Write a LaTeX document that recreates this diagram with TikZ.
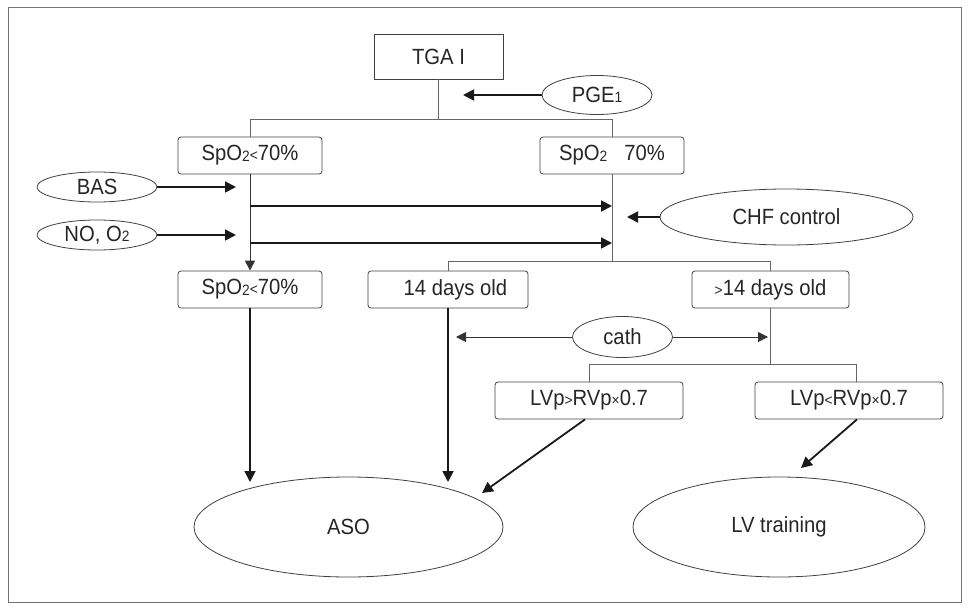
\documentclass[tikz,border=0pt]{standalone}
\usepackage{fontspec}
\setmainfont{Liberation Sans}[FakeStretch=0.92]
\usetikzlibrary{shapes.geometric,arrows.meta}
\newcommand\sbsc[1]{\raisebox{-0.5pt}{\fontsize{15}{15}\selectfont #1}}
\newcommand\smop[1]{{\fontsize{15}{15}\selectfont #1}}
\begin{document}
\begin{tikzpicture}[x=1pt,y=-1pt,
  every node/.style={font=\fontsize{22}{26}\selectfont, text=black!85, inner sep=0pt},
  rbox/.style={draw=black!75, line width=0.8pt, rounded corners=3pt, minimum height=37pt},
  sbox/.style={draw=black!75, line width=0.8pt, minimum height=45pt, minimum width=129pt},
  oval/.style={draw=black!75, line width=0.8pt, ellipse},
  conn/.style={draw=black!60, line width=1pt},
  arr/.style={draw=black!90, line width=1.8pt, -{Triangle[length=11pt,width=11pt]}},
  tarr/.style={draw=black!80, line width=1pt, -{Triangle[length=10pt,width=10pt]}},
]
\useasboundingbox (0,0) rectangle (969,610);
\draw[black!55, line width=1pt] (8,8) rectangle (961,602);

% nodes
\node[sbox] (tga) at (438.5,56.5) {TGA I};
\node[oval, minimum width=110pt, minimum height=39pt] (pge) at (597,95) {PGE\sbsc{1}};
\node[rbox, minimum width=144pt] (s1) at (250,155.5) {SpO\sbsc{2}\smop{<}70\%};
\node[rbox, minimum width=144pt] (s2) at (612,155.5) {SpO\sbsc{2}\hspace{17pt}70\%};
\node[oval, minimum width=120pt, minimum height=30pt] (bas) at (97,187) {BAS};
\node[oval, minimum width=120pt, minimum height=30pt] (no) at (97,235) {NO, O\sbsc{2}};
\node[oval, minimum width=253pt, minimum height=56pt] (chf) at (786.5,217) {CHF control};
\node[rbox, minimum width=144pt] (s3) at (250,289.5) {SpO\sbsc{2}\smop{<}70\%};
\node[rbox, minimum width=160pt] (d14) at (448,289.5) {\hspace{15pt}14 days old};
\node[rbox, minimum width=157pt] (d14p) at (770.5,289.5) {\smop{>}14 days old};
\node[oval, minimum width=100pt, minimum height=41pt] (cath) at (622.5,337) {cath};
\node[rbox, minimum width=188pt] (lvg) at (589,400.5) {LVp\smop{>}RVp\smop{×}0.7};
\node[rbox, minimum width=188pt] (lvl) at (849,400.5) {LVp\smop{<}RVp\smop{×}0.7};
\node[oval, minimum width=309pt, minimum height=100pt] (aso) at (348.5,527) {ASO};
\node[oval, minimum width=292pt, minimum height=100pt] (lvt) at (779,527) {LV training};

% coordinates
\coordinate (j1) at (438.5,119);
\coordinate (pgeT) at (463,95);
\coordinate (basT) at (236,187);
\coordinate (noT) at (236,235);
\coordinate (h1s) at (250,206);
\coordinate (h1e) at (612,206);
\coordinate (h2s) at (250,243);
\coordinate (h2e) at (612,243);
\coordinate (chfT) at (627,217);
\coordinate (j2) at (612,262);
\coordinate (a1) at (250,482);
\coordinate (a2) at (448,482);
\coordinate (cL) at (456,337);
\coordinate (cR) at (768,337);
\coordinate (j3) at (770.5,365);
\coordinate (lvlTop) at (856,382);
\coordinate (a3) at (482,493);
\coordinate (a4) at (801,468);

% connectors
\draw[conn] (tga.south) -- (j1);
\draw[conn] (s1.north) -- (s1.north |- j1) -- (s2.north |- j1) -- (s2.north);
\draw[arr] (pge.west) -- (pgeT);
\draw[tarr] (s1.south) -- (s3.north);
\draw[arr] (bas.east) -- (basT);
\draw[arr] (no.east) -- (noT);
\draw[arr] (h1s) -- (h1e);
\draw[arr] (h2s) -- (h2e);
\draw[arr] (chf.west) -- (chfT);
\draw[conn] (s2.south) -- (j2);
\draw[conn] (d14.north) -- ++(0,-9) -| (d14p.north);
\draw[arr] (s3.south) -- (a1);
\draw[arr] (d14.south) -- (a2);
\draw[tarr] (cath.west) -- (cL);
\draw[tarr] (cath.east) -- (cR);
\draw[conn] (d14p.south) -- (j3);
\draw[conn] (lvg.north) -- ++(0,-17) -| (lvlTop);
\draw[arr] ([xshift=-4pt]lvg.south) -- (a3);
\draw[arr] ([xshift=8pt]lvl.south) -- (a4);
\end{tikzpicture}
\end{document}
